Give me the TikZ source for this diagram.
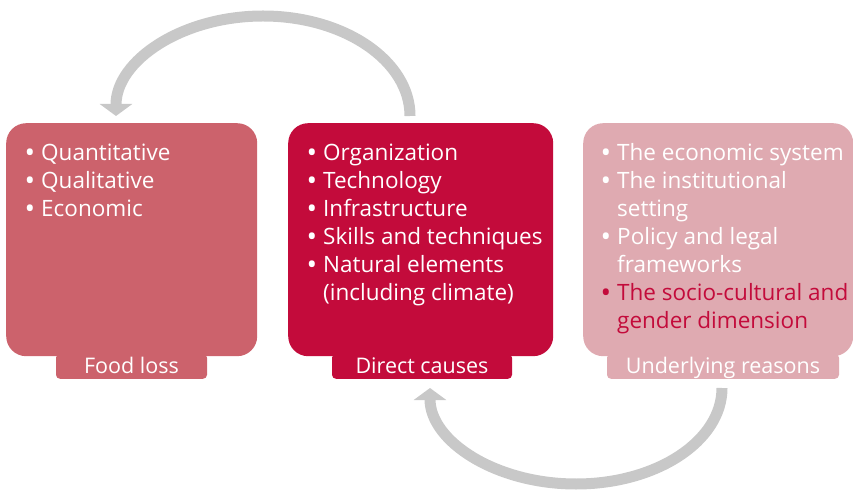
\documentclass[tikz,border=0pt]{standalone}
\usepackage{fontspec}
\setmainfont{Open Sans}
\usetikzlibrary{arrows.meta}
\definecolor{cone}{HTML}{CC626C}
\definecolor{ctwo}{HTML}{C30B3B}
\definecolor{cthree}{HTML}{DFAAB1}
\definecolor{arrowgray}{HTML}{C8C8C8}
\tikzset{
  bigbox/.style={rectangle, rounded corners=20pt, minimum height=233pt, inner sep=0pt, anchor=north west, draw=none},
  tabbox/.style={rectangle, rounded corners=4pt, minimum height=25pt, inner sep=0pt, anchor=south, text=white,
                 font=\fontsize{21.5}{25}\selectfont, text height=17.5pt, text depth=3.5pt},
  listtext/.style={anchor=north west, inner sep=0pt, align=left, text=white, font=\fontsize{22.5}{28}\selectfont},
  cyclearrow/.style={draw=arrowgray, line width=11pt, -{Triangle[width=32pt,length=12pt]}}
}
\newcommand{\bul}{\llap{\raisebox{-2pt}{\scalebox{1.25}{•}}\hspace{6pt}}}
\begin{document}
\begin{tikzpicture}[x=1pt,y=1pt]
\useasboundingbox (0,0) rectangle (853,490);
% boxes
\node[bigbox, fill=cone, minimum width=251pt] (b1) at (6,367) {};
\node[bigbox, fill=ctwo, minimum width=265pt] (b2) at (288,367) {};
\node[bigbox, fill=cthree, minimum width=270pt] (b3) at (583,367) {};
% tabs
\node[tabbox, fill=cone, minimum width=151pt] (t1) at (131.5,111) {Food loss};
\node[tabbox, fill=ctwo, minimum width=180pt] (t2) at (422,111) {Direct causes};
\node[tabbox, fill=cthree, minimum width=232pt] (t3) at (723,111) {Underlying reasons};
% lists
\node[listtext] (l1) at (41,349.6) {\bul\strut Quantitative\\\bul\strut Qualitative\\\bul\strut Economic};
\node[listtext] (l2) at (323,349.6) {\bul\strut Organization\\\bul\strut Technology\\\bul\strut Infrastructure\\\bul\strut Skills and techniques\\\bul\strut Natural elements\\\strut(including climate)};
\node[listtext] (l3) at (617,349.6) {\bul\strut The economic system\\\bul\strut The institutional\\\strut setting\\\bul\strut Policy and legal\\\strut frameworks\\\textcolor{ctwo}{\bul\strut The socio-cultural and}\\\textcolor{ctwo}{\strut gender dimension}};
% arrows
\coordinate (a1s) at ([xshift=122pt,yshift=7pt]b2.north west);
\coordinate (a2s) at ([xshift=-1pt,yshift=-9pt]t3.south);
\path[cyclearrow] (a1s) arc[start angle=0, end angle=180, x radius=147pt, y radius=100pt];
\path[cyclearrow] (a2s) arc[start angle=0, end angle=-180, x radius=146pt, y radius=96pt];
\end{tikzpicture}
\end{document}
